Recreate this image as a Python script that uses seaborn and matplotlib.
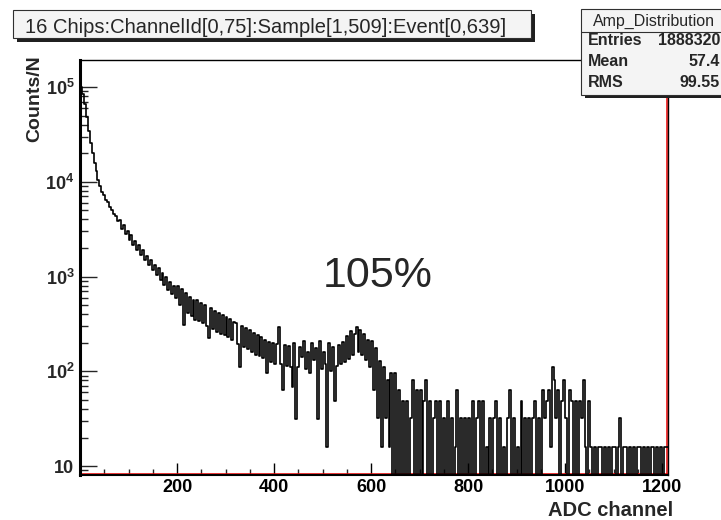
import numpy as np
import pandas as pd
import matplotlib
matplotlib.use("Agg")
import matplotlib.pyplot as plt
import seaborn as sns
from matplotlib.ticker import FixedLocator, LogLocator, MultipleLocator, NullFormatter
from matplotlib.patches import Rectangle
from matplotlib.transforms import offset_copy

# ---------------- data ----------------
bin_width = 4  # ADC units per bin

head_counts = [
    100000, 85000, 66000, 48000, 34700, 25700, 20000, 15800, 12900, 10500,
    9100, 7800, 7300, 6500, 6100, 5400, 5100, 4600, 4350, 3900,
    3950, 3200, 3500, 2800, 3050, 2450, 2750, 2150, 2400, 1920,
    2150, 1680, 1900, 1480, 1650, 1320, 1480, 1180, 1320, 1040,
    1230, 910, 1080, 820, 980, 720, 870, 660, 800, 600,
]
body_counts = [
    800, 500, 730, 310, 670, 410, 610, 380, 570, 350,
    560, 340, 530, 320, 500, 300, 225, 460, 280, 430,
    260, 410, 250, 390, 240, 375, 230, 355, 215, 335,
    325, 195, 112, 300, 180, 285, 172, 270, 160, 255,
    150, 240, 145, 228, 138, 215, 96, 205, 125, 198,
    120, 195, 295, 118, 63, 190, 115, 185, 110, 68,
    200, 31, 112, 182, 140, 210, 105, 160, 95, 200,
    130, 178, 31, 210, 105, 160, 120, 16, 200, 100,
    180, 48, 115, 190, 120, 205, 125, 235, 135, 265,
    150, 250, 295, 160, 275, 150, 245, 130, 215, 110,
]
tail_counts = [
    208, 64, 176, 32, 128, 16, 112, 32, 80, 16,
    96, 0, 96, 0, 64, 0, 48, 0, 48, 0,
    32, 80, 0, 64, 0, 64, 0, 48, 80, 0,
    48, 0, 32, 48, 0, 48, 0, 32, 0, 48,
    0, 32, 0, 16, 64, 0, 32, 0, 32, 0,
    32, 0, 48, 0, 32, 48, 0, 48, 0, 16,
    0, 32, 0, 32, 48, 0, 32, 0, 16, 0,
    32, 64, 0, 32, 0, 16, 0, 48, 0, 32,
    0, 32, 0, 32, 48, 0, 32, 0, 64, 32,
    48, 64, 16, 112, 80, 32, 64, 0, 48, 80,
    32, 0, 64, 48, 0, 48, 0, 48, 32, 80,
    16, 0, 48, 16, 0, 16, 0, 16, 16, 0,
    16, 0, 16, 0, 16, 16, 0, 16, 32, 0,
    16, 16, 0, 16, 0, 16, 0, 16, 16, 0,
    16, 0, 16, 0, 16, 16, 0, 16, 0, 16,
    0, 16, 16,
]

x_ticks = [200, 400, 600, 800, 1000, 1200]
y_ticks = [10, 100, 1000, 10000, 100000]
y_tick_labels = ["10", r"$10^{2}$", r"$10^{3}$", r"$10^{4}$", r"$10^{5}$"]

title_text = "16 Chips:ChannelId[0,75]:Sample[1,509]:Event[0,639]"
stats_name = "Amp_Distribution"
stats_rows = [("Entries", "1888320"), ("Mean", "57.4"), ("RMS", "99.55")]
annotation = "105%"
x_label = "ADC channel"
y_label = "Counts/N"

# ---------------- build ----------------
counts = np.array(head_counts + body_counts + tail_counts, dtype=float)
n_bins = len(counts)
x_max = n_bins * bin_width
df = pd.DataFrame({
    "adc": np.arange(n_bins) * bin_width + bin_width / 2,
    "counts": counts,
})

sns.set_style("white")
plt.rcParams["font.family"] = ["Liberation Sans", "DejaVu Sans"]
plt.rcParams["mathtext.fontset"] = "custom"
plt.rcParams["mathtext.rm"] = "Liberation Sans:bold"
plt.rcParams["mathtext.bf"] = "Liberation Sans:bold"
plt.rcParams["mathtext.it"] = "Liberation Sans:bold"

W, H = 721, 520
fig = plt.figure(figsize=(W / 100, H / 100), dpi=100)
fig.patch.set_facecolor("white")

def fx(px):
    return px / W

def fy(py):
    return 1 - py / H

L, R, T, B = 80, 668, 60, 475
ax = fig.add_axes([fx(L), fy(B), (R - L) / W, (B - T) / H])
ax.set_facecolor("white")

sns.histplot(data=df, x="adc", weights="counts", binwidth=bin_width, binrange=(0, x_max),
             element="step", fill=False, color="black", linewidth=1.2, ax=ax, zorder=2)
ax.set_yscale("log", nonpositive="clip")
ax.set_xlim(0, x_max)
ax.set_ylim(8.04, 1.93e5)
ax.set_xlabel("")
ax.set_ylabel("")

ax.xaxis.set_major_locator(FixedLocator(x_ticks))
ax.xaxis.set_minor_locator(MultipleLocator(50))
ax.set_xticklabels([str(v) for v in x_ticks])
ax.yaxis.set_major_locator(FixedLocator(y_ticks))
ax.set_yticklabels(y_tick_labels)
ax.yaxis.set_minor_locator(LogLocator(base=10, subs=np.arange(2, 10)))
ax.yaxis.set_minor_formatter(NullFormatter())

ax.tick_params(axis="x", which="major", direction="in", length=8.6, width=1.0,
               labelsize=13, pad=3, bottom=True, top=False, colors="black")
ax.tick_params(axis="x", which="minor", direction="in", length=4.3, width=1.0,
               bottom=True, top=False)
ax.tick_params(axis="y", which="major", direction="in", length=12, width=1.0,
               labelsize=13, pad=4, left=True, right=False)
ax.tick_params(axis="y", which="minor", direction="in", length=5.8, width=1.0,
               left=True, right=False)
for lbl in ax.get_xticklabels() + ax.get_yticklabels():
    lbl.set_fontweight("bold")

for side, lw in [("left", 2.2), ("bottom", 1.5), ("top", 1.0), ("right", 1.0)]:
    ax.spines[side].set_visible(True)
    ax.spines[side].set_color("black")
    ax.spines[side].set_linewidth(lw)
    ax.spines[side].set_zorder(2.5)

tr_b = offset_copy(ax.transAxes, fig=fig, x=0, y=1.0, units="dots")
ax.plot([0, 1], [0, 0], transform=tr_b, color="#ee0000", lw=1.1, clip_on=False, zorder=1.5)
tr_r = offset_copy(ax.transAxes, fig=fig, x=-1.5, y=0, units="dots")
ax.plot([1, 1], [0, 1], transform=tr_r, color="#ee0000", lw=1.1, clip_on=False, zorder=1.5)

# axis titles
fig.text(fx(35), fy(55), y_label, rotation=90, ha="center", va="top",
         fontsize=14, fontweight="bold")
fig.text(fx(673), fy(510), x_label, ha="right", va="center",
         fontsize=14.5, fontweight="bold")

# annotation
fig.text(fx(377.5), fy(287), annotation, ha="center", va="baseline", fontsize=31)

# title box
tx0, ty0, tx1, ty1 = 13, 10, 531, 38
fig.patches.append(Rectangle((fx(tx0 + 4), fy(ty1 + 4)), (tx1 - tx0) / W, (ty1 - ty0) / H,
                             transform=fig.transFigure, facecolor="#202020", edgecolor="none", zorder=5))
fig.patches.append(Rectangle((fx(tx0), fy(ty1)), (tx1 - tx0) / W, (ty1 - ty0) / H,
                             transform=fig.transFigure, facecolor="#f4f4f4", edgecolor="#303030",
                             lw=0.8, zorder=6))
fig.text(fx(25), fy(33.3), title_text, ha="left", va="baseline",
         fontsize=14.5, zorder=7)

# stats box
sx0, sy0, sx1, sy1 = 581, 9, 740, 95
fig.patches.append(Rectangle((fx(sx0 + 4), fy(sy1 + 3)), (sx1 - sx0) / W, (sy1 - sy0) / H,
                             transform=fig.transFigure, facecolor="#202020", edgecolor="none", zorder=5))
fig.patches.append(Rectangle((fx(sx0), fy(sy1)), (sx1 - sx0) / W, (sy1 - sy0) / H,
                             transform=fig.transFigure, facecolor="#f4f4f4", edgecolor="#303030",
                             lw=0.8, zorder=6))
fig.lines.append(plt.Line2D([fx(sx0), fx(sx1)], [fy(32), fy(32)], transform=fig.transFigure,
                            color="#303030", lw=0.8, zorder=7))
fig.text(fx(654), fy(21), stats_name, ha="center", va="center", fontsize=11.5, zorder=8)
for (name, val), yy in zip(stats_rows, [41, 62, 82.5]):
    fig.text(fx(588), fy(yy), name, ha="left", va="center", fontsize=11.5,
             fontweight="bold", zorder=8)
    fig.text(fx(720), fy(yy), val, ha="right", va="center", fontsize=11.5,
             fontweight="bold", zorder=8)

fig.savefig("out.png", dpi=100, facecolor="white")
